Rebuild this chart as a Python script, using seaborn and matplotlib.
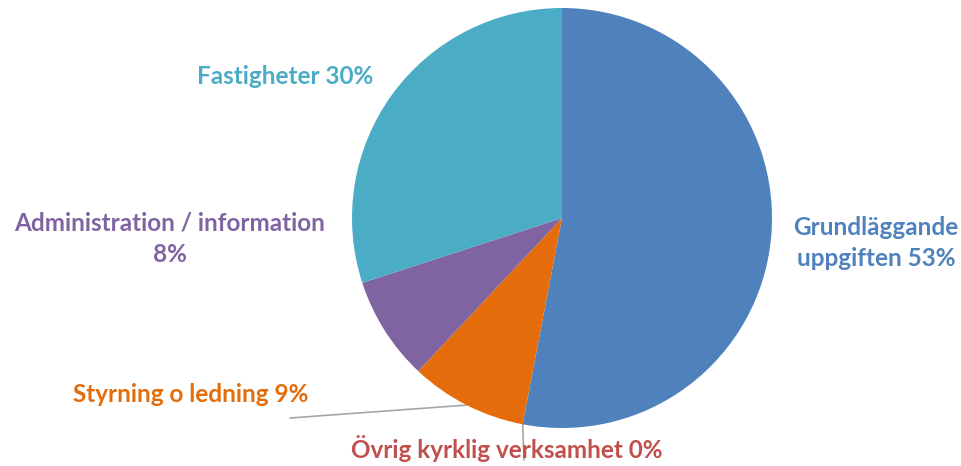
import numpy as np
import matplotlib
matplotlib.use("Agg")
import matplotlib.pyplot as plt
import seaborn as sns

# data (clockwise from 12 o'clock)
categories = ["Grundläggande\nuppgiften", "Övrig kyrklig verksamhet", "Styrning o ledning",
              "Administration / information", "Fastigheter"]
shares = [53, 0, 9, 8, 30]
colors = ["#4F81BD", "#C0504D", "#E46C0A", "#8064A2", "#4BACC6"]

sns.set_theme(style="white")
plt.rcParams["font.family"] = ["Lato", "DejaVu Sans"]

fig = plt.figure(figsize=(9.62, 4.66), dpi=100)
ax = fig.add_axes([0, 0, 1, 1])

cx, cy, r = 562, 248, 210
ax.pie(shares, colors=colors, startangle=90, counterclock=False,
       center=(cx, cy), radius=r, frame=True,
       wedgeprops=dict(linewidth=0, antialiased=True))
ax.set_xlim(0, 962)
ax.set_ylim(0, 466)
ax.set_aspect("equal")
ax.axis("off")

# label text positions
label_text = ["Grundläggande\nuppgiften 53%", "Övrig kyrklig verksamhet 0%", "Styrning o ledning 9%",
              "Administration / information\n8%", "Fastigheter 30%"]
label_xy = [(876, 223), (507, 18), (191, 71), (170, 227), (285, 390)]
for txt, (x, y), c in zip(label_text, label_xy, colors):
    ax.text(x, y, txt, color=c, fontsize=17.5, fontweight="bold", ha="center", va="center",
            linespacing=1.45)

# leader lines from mid-angle of small slices
cum = np.cumsum([0] + shares)
total = sum(shares)
for i, end in [(1, (524, 6)), (2, (290, 48))]:
    mid = (cum[i] + cum[i + 1]) / 2 / total * 360
    a = np.deg2rad(90 - mid)
    ax.plot([cx + r * np.cos(a), end[0]], [cy + r * np.sin(a), end[1]],
            color="#A6A6A6", linewidth=1.2, zorder=0)

fig.savefig("out.png", dpi=100)
